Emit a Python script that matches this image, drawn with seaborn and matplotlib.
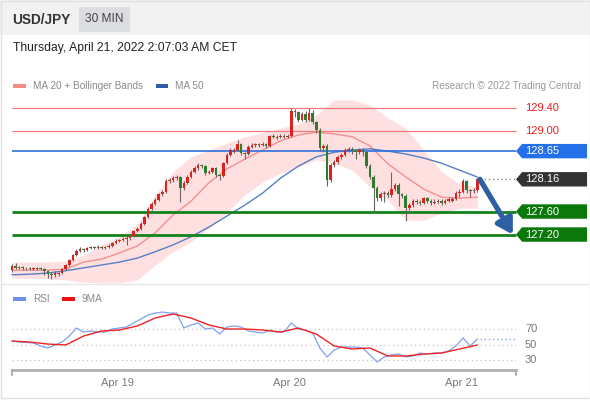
import numpy as np
import pandas as pd
import matplotlib
matplotlib.use("Agg")
import matplotlib.pyplot as plt
import seaborn as sns
from matplotlib.patches import Rectangle, Polygon
from matplotlib.lines import Line2D

# ---------------- data ----------------
opens = [126.58, 126.65, 126.62, 126.63, 126.61, 126.62, 126.60, 126.62, 126.61, 126.60,
         126.57, 126.51, 126.50, 126.51, 126.53, 126.60, 126.67, 126.76, 126.84, 126.91,
         126.95, 126.93, 126.97, 126.98, 126.97, 126.98, 126.97, 126.98, 127.00, 127.05,
         127.09, 127.10, 127.12, 127.14, 127.17, 127.26, 127.30, 127.38, 127.50, 127.64,
         127.73, 127.80, 127.90, 127.94, 128.13, 128.15, 128.18, 128.20, 128.01, 128.10,
         128.20, 128.29, 128.36, 128.41, 128.39, 128.27, 128.29, 128.36, 128.23, 128.22,
         128.44, 128.58, 128.64, 128.67, 128.77, 128.62, 128.60, 128.72, 128.76, 128.77,
         128.76, 128.77, 128.74, 128.91, 128.88, 128.90, 128.91, 128.90, 128.91, 129.35,
         129.33, 129.19, 129.30, 129.19, 129.31, 129.16, 129.02, 128.70, 128.74, 128.15,
         128.41, 128.46, 128.55, 128.58, 128.67, 128.69, 128.65, 128.63, 128.67, 128.63,
         128.39, 128.20, 128.01, 127.83, 127.90, 127.92, 127.89, 127.99, 128.06, 127.90,
         127.87, 127.66, 127.71, 127.78, 127.77, 127.75, 127.83, 127.78, 127.75, 127.77,
         127.78, 127.75, 127.78, 127.79, 127.82, 127.92, 127.94, 128.13, 127.97, 127.96,
         127.97]
closes = [126.65, 126.62, 126.63, 126.62, 126.62, 126.60, 126.62, 126.60, 126.60, 126.57,
          126.51, 126.50, 126.53, 126.53, 126.60, 126.67, 126.76, 126.84, 126.91, 126.95,
          126.93, 126.97, 126.98, 126.97, 126.98, 126.97, 126.98, 127.00, 127.05, 127.09,
          127.10, 127.12, 127.14, 127.17, 127.26, 127.30, 127.38, 127.50, 127.64, 127.73,
          127.80, 127.90, 127.94, 128.13, 128.15, 128.18, 128.20, 128.01, 128.10, 128.20,
          128.29, 128.36, 128.41, 128.39, 128.27, 128.29, 128.36, 128.23, 128.22, 128.44,
          128.58, 128.67, 128.67, 128.77, 128.62, 128.60, 128.72, 128.76, 128.77, 128.76,
          128.77, 128.74, 128.91, 128.90, 128.90, 128.91, 128.90, 128.91, 129.35, 129.33,
          129.19, 129.30, 129.19, 129.31, 129.16, 129.02, 128.70, 128.74, 128.15, 128.41,
          128.46, 128.55, 128.58, 128.67, 128.69, 128.65, 128.63, 128.67, 128.63, 128.39,
          128.20, 128.01, 127.83, 127.90, 127.92, 127.89, 127.99, 128.06, 127.90, 127.87,
          127.66, 127.71, 127.78, 127.77, 127.75, 127.83, 127.78, 127.75, 127.77, 127.78,
          127.75, 127.78, 127.82, 127.82, 127.92, 127.94, 128.13, 127.97, 127.96, 127.97,
          128.16]
highs = [126.68, 126.70, 126.66, 126.65, 126.64, 126.64, 126.64, 126.64, 126.63, 126.62,
         126.58, 126.55, 126.56, 126.55, 126.62, 126.69, 126.78, 126.86, 126.94, 126.98,
         126.97, 126.99, 127.00, 127.00, 127.01, 127.00, 127.00, 127.03, 127.07, 127.12,
         127.13, 127.15, 127.18, 127.20, 127.28, 127.33, 127.41, 127.53, 127.67, 127.76,
         127.83, 127.93, 127.97, 128.17, 128.19, 128.21, 128.23, 128.22, 128.13, 128.23,
         128.32, 128.40, 128.44, 128.43, 128.41, 128.32, 128.38, 128.38, 128.26, 128.46,
         128.61, 128.70, 128.71, 128.84, 128.80, 128.64, 128.75, 128.79, 128.80, 128.79,
         128.81, 128.79, 128.93, 128.94, 128.93, 128.94, 128.94, 128.95, 129.40, 129.38,
         129.35, 129.33, 129.34, 129.40, 129.36, 129.18, 129.05, 128.78, 128.77, 128.44,
         128.50, 128.58, 128.62, 128.70, 128.72, 128.72, 128.69, 128.70, 128.70, 128.66,
         128.43, 128.24, 128.04, 127.94, 127.96, 127.95, 128.28, 128.10, 128.09, 127.93,
         127.90, 127.75, 127.82, 127.81, 127.80, 127.86, 127.86, 127.81, 127.81, 127.82,
         127.81, 127.82, 127.85, 127.86, 127.95, 127.99, 128.16, 128.15, 128.00, 128.01,
         128.18]
lows = [126.55, 126.60, 126.60, 126.59, 126.59, 126.58, 126.58, 126.58, 126.58, 126.50,
        126.44, 126.43, 126.46, 126.48, 126.51, 126.58, 126.65, 126.74, 126.82, 126.89,
        126.90, 126.91, 126.94, 126.94, 126.95, 126.94, 126.95, 126.96, 126.98, 127.03,
        127.07, 127.08, 127.02, 127.10, 127.15, 127.24, 127.28, 127.36, 127.48, 127.62,
        127.71, 127.78, 127.87, 127.92, 128.10, 128.12, 128.15, 127.76, 127.98, 128.08,
        128.18, 128.27, 128.33, 128.36, 128.24, 128.25, 128.27, 128.20, 128.14, 128.20,
        128.42, 128.56, 128.62, 128.65, 128.58, 128.52, 128.58, 128.70, 128.73, 128.73,
        128.74, 128.71, 128.72, 128.87, 128.86, 128.88, 128.87, 128.88, 128.89, 129.25,
        129.16, 129.17, 129.16, 129.17, 129.13, 128.96, 128.66, 128.64, 128.05, 128.12,
        128.38, 128.43, 128.52, 128.56, 128.64, 128.60, 128.52, 128.60, 128.57, 128.35,
        128.16, 127.60, 127.78, 127.78, 127.76, 127.85, 127.86, 127.96, 127.70, 127.84,
        127.43, 127.63, 127.68, 127.73, 127.72, 127.73, 127.75, 127.71, 127.73, 127.74,
        127.72, 127.73, 127.76, 127.77, 127.80, 127.86, 127.92, 127.93, 127.86, 127.92,
        127.94]

band_idx = [0, 5, 10, 15, 20, 25, 30, 35, 40, 45, 50, 55, 60, 65, 70, 75, 80, 85, 90,
            95, 100, 105, 110, 115, 120, 125, 130]
ma20 = [126.58, 126.58, 126.58, 126.60, 126.72, 126.77, 126.88, 127.00, 127.23, 127.54,
        127.78, 128.10, 128.34, 128.51, 128.67, 128.83, 128.93, 128.98, 128.95, 128.90,
        128.74, 128.43, 128.20, 127.99, 127.85, 127.83, 127.85]
bb_upper = [126.72, 126.72, 126.72, 126.74, 126.84, 127.02, 127.16, 127.37, 127.89, 128.29,
            128.55, 128.67, 128.79, 128.90, 128.97, 129.05, 129.12, 129.28, 129.54, 129.54,
            129.45, 129.23, 129.05, 128.67, 128.29, 128.08, 128.03]
bb_lower = [126.44, 126.44, 126.43, 126.41, 126.37, 126.36, 126.36, 126.41, 126.67, 126.90,
            127.07, 127.31, 127.58, 127.89, 128.11, 128.27, 128.37, 128.50, 128.44, 128.32,
            128.03, 127.80, 127.45, 127.45, 127.57, 127.66, 127.66]
ma50 = [126.50, 126.51, 126.53, 126.57, 126.62, 126.67, 126.72, 126.79, 126.90, 127.02,
        127.16, 127.33, 127.52, 127.71, 127.92, 128.18, 128.39, 128.55, 128.63, 128.67,
        128.69, 128.65, 128.60, 128.53, 128.44, 128.32, 128.20]

rsi_idx = [0, 2, 4, 6, 8, 10, 12, 14, 16, 18, 20, 22, 24, 26, 28, 30, 32, 34, 36, 38,
           40, 42, 44, 46, 48, 50, 52, 54, 56, 58, 60, 62, 64, 66, 68, 70, 72, 74, 76, 78,
           80, 82, 84, 86, 88, 90, 92, 94, 96, 98, 100, 102, 104, 106, 108, 110, 112, 114,
           116, 118, 120, 122, 124, 126, 128, 130]
rsi = [54.5, 53.2, 52.6, 51.9, 48.1, 45.5, 49.4, 53.2, 61.0, 71.3, 66.1, 67.4, 66.1, 66.1,
       70.0, 71.3, 72.6, 77.7, 82.9, 88.1, 90.6, 91.9, 90.6, 90.6, 71.3, 75.2, 77.7, 70.0,
       71.3, 63.5, 72.6, 73.9, 72.6, 67.4, 66.1, 64.8, 68.7, 66.1, 66.1, 77.7, 70.0, 68.7,
       64.8, 45.5, 33.9, 42.9, 46.8, 46.8, 46.8, 45.5, 36.5, 27.4, 33.9, 36.5, 37.7, 33.9,
       35.2, 39.0, 37.7, 39.0, 39.0, 41.6, 48.1, 58.4, 48.1, 57.1]
rsi_ma9 = [54.5, 53.2, 50.6, 49.4, 61.0, 67.4, 68.7, 73.9, 84.2, 89.4, 84.2, 75.2, 70.0,
           70.0, 68.7, 66.1, 71.3, 63.5, 48.1, 44.2, 45.5, 35.2, 35.2, 37.7, 39.0, 44.2, 49.4]

red_levels = [129.40, 129.00]
blue_level = 128.65
last_price = 128.16
green_levels = [127.60, 127.20]
target = 127.20
rsi_levels = [70, 50, 30]
day_pos = [29.5, 77.5, 125.5]
day_labels = ["Apr 19", "Apr 20", "Apr 21"]

# ---------------- style ----------------
sns.set_theme(style="white")
plt.rcParams['font.family'] = ['Liberation Sans', 'DejaVu Sans']

W, H = 590, 400
fig = plt.figure(figsize=(5.9, 4.0), dpi=100)
fig.patch.set_facecolor('white')


def fx(px):
    return px / W


def fy(py):
    return 1 - py / H


# header band
fig.add_artist(Rectangle((0, fy(35)), 1, 35 / H, transform=fig.transFigure,
                         facecolor='#f2f2f3', edgecolor='none', zorder=0))
fig.add_artist(Rectangle((fx(79), fy(32)), 51 / W, 25 / H, transform=fig.transFigure,
                         facecolor='#dcdde1', edgecolor='none', zorder=1))
fig.text(fx(12), fy(19.5), "USD/JPY", fontsize=9.8, fontweight='bold', color='#333333', va='center')
fig.text(fx(104.5), fy(19.5), "30 MIN", fontsize=8.6, color='#444444', ha='center', va='center')
fig.text(fx(13), fy(48), "Thursday, April 21, 2022 2:07:03 AM CET", fontsize=8.7,
         color='#222222', va='center')

# legend row
fig.add_artist(Rectangle((fx(13), fy(88)), 13 / W, 4 / H, transform=fig.transFigure,
                         facecolor='#f98a8a', edgecolor='none'))
fig.text(fx(33), fy(86), "MA 20 + Bollinger Bands", fontsize=7.2, color='#8a8a8a', va='center')
fig.add_artist(Rectangle((fx(156), fy(88)), 12 / W, 4 / H, transform=fig.transFigure,
                         facecolor='#2f5ea8', edgecolor='none'))
fig.text(fx(175), fy(86), "MA 50", fontsize=7.2, color='#8a8a8a', va='center')
fig.text(fx(581), fy(86), "Research \u00a9 2022 Trading Central", fontsize=7.2,
         color='#9a9a9a', va='center', ha='right')

# ---------------- main price panel ----------------
ax = fig.add_axes([fx(10), fy(283), fx(588) - fx(10), fy(95) - fy(283)])
ax.set_xlim(-0.56, 160.9)
ax.set_ylim(126.357, 129.626)
ax.axis('off')

ax.fill_between(band_idx, bb_lower, bb_upper, color='#ffe0e0', lw=0, zorder=1)
sns.lineplot(x=band_idx, y=ma20, ax=ax, color='#f49090', lw=1.0, zorder=2)
sns.lineplot(x=band_idx, y=ma50, ax=ax, color='#5580c4', lw=1.0, zorder=2)

line_end = 140.8
ax.hlines(red_levels, 0, line_end, colors='#f27a7a', lw=0.9, zorder=3)
ax.hlines([blue_level], 0, line_end, colors='#2e6fe0', lw=1.2, zorder=3)
ax.hlines(green_levels, 0, line_end, colors='#13821a', lw=2.0, zorder=3)

idx = np.arange(len(closes))
o = np.array(opens)
c = np.array(closes)
cols = np.where(c >= o, '#d8231f', '#2e7d2e')
ax.vlines(idx, lows, highs, colors='#6e6464', lw=0.8, zorder=4)
ax.bar(idx, c - o, bottom=o, width=0.72, color=cols, linewidth=0, zorder=5)

ax.hlines([last_price], len(closes) - 0.3, line_end, colors='#8a8a8a',
          linestyles=(0, (1, 2)), lw=1, zorder=3)
ax.annotate('', xy=(line_end - 0.9, target), xytext=(len(closes) - 0.3, last_price),
            arrowprops=dict(arrowstyle='-|>,head_length=0.75,head_width=0.45',
                            color='#2d5fa5', lw=3.8, shrinkA=0, shrinkB=0), zorder=6)

px_per_idx = 3.58
px_per_price = 57.5
label_x = line_end + 9 / px_per_idx
tip_x = line_end
body_x = line_end + 6 / px_per_idx
end_x = line_end + 71 / px_per_idx
hh = 7.2 / px_per_price

for p in red_levels:
    ax.text(label_x, p, f"{p:.2f}", color='#ee1c1c', fontsize=8, va='center', ha='left',
            clip_on=False)


def tag(p, color):
    poly = Polygon([(tip_x, p), (body_x, p + hh), (end_x, p + hh), (end_x, p - hh),
                    (body_x, p - hh)], closed=True, facecolor=color, edgecolor='none',
                   clip_on=False, zorder=7)
    ax.add_patch(poly)
    ax.text(label_x, p, f"{p:.2f}", color='white', fontsize=8, va='center', ha='left',
            clip_on=False, zorder=8)


tag(blue_level, '#2570e8')
tag(last_price, '#333333')
for p in green_levels:
    tag(p, '#0a780a')

# separator between panels
fig.add_artist(Line2D([fx(2), fx(588)], [fy(284), fy(284)], transform=fig.transFigure,
                      color='#e6e6e6', lw=1))

# RSI legend
fig.add_artist(Rectangle((fx(13), fy(301)), 13 / W, 4 / H, transform=fig.transFigure,
                         facecolor='#6f8fe8', edgecolor='none'))
fig.text(fx(33), fy(299), "RSI", fontsize=7.2, color='#8a8a8a', va='center')
fig.add_artist(Rectangle((fx(62), fy(301)), 13 / W, 4 / H, transform=fig.transFigure,
                         facecolor='#ee1111', edgecolor='none'))
fig.text(fx(82), fy(299), "9MA", fontsize=7.2, color='#8a8a8a', va='center')

# ---------------- RSI panel ----------------
ax2 = fig.add_axes([fx(10), fy(370), fx(588) - fx(10), fy(305) - fy(370)])
ax2.set_xlim(-0.56, 160.9)
ax2.set_ylim(17.1, 101.0)
ax2.set_facecolor('none')
for s in ['top', 'right', 'left']:
    ax2.spines[s].set_visible(False)
ax2.spines['bottom'].set_color('#b0b0b0')
ax2.spines['bottom'].set_linewidth(2)
ax2.spines['bottom'].set_bounds(0, line_end)

ax2.hlines(rsi_levels, 0, line_end, colors='#c4c4c4', linestyles=(0, (1, 2.5)), lw=0.9)
sns.lineplot(x=rsi_idx, y=rsi, ax=ax2, color='#7f9ff0', lw=0.9)
sns.lineplot(x=band_idx, y=rsi_ma9, ax=ax2, color='#f02323', lw=1.0)
ax2.hlines([rsi[-1]], rsi_idx[-1] + 0.7, line_end, colors='#7f9ff0',
           linestyles=(0, (1, 2)), lw=1)
for v in rsi_levels:
    ax2.text(label_x, v, f"{v}", color='#7a7a7a', fontsize=8, va='center', ha='left',
             clip_on=False)

tick_drop = 5 / 0.775
for xe in [0, line_end]:
    ax2.plot([xe, xe], [17.1, 17.1 - tick_drop], color='#b0b0b0', lw=1.5, clip_on=False)

ax2.set_yticks([])
ax2.set_xticks(day_pos)
ax2.set_xticklabels(day_labels)
ax2.tick_params(axis='x', length=0, labelsize=8, colors='#7a7a7a', pad=6)
ax2.set_xlabel('')
ax2.set_ylabel('')

# outer frame
fig.add_artist(Rectangle((fx(0.5), fy(397.5)), 589 / W, 397 / H, transform=fig.transFigure,
                         facecolor='none', edgecolor='#e2e2e2', lw=1))

fig.savefig('out.png', dpi=100)
